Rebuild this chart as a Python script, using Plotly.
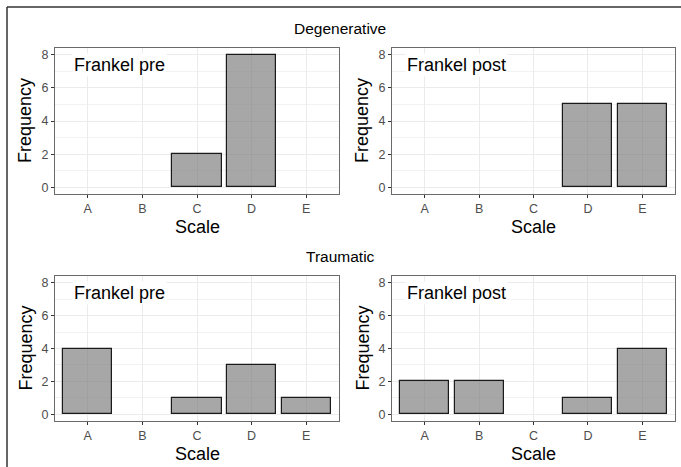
import plotly.graph_objects as go

categories = ["A", "B", "C", "D", "E"]
degen_pre = [0, 0, 2, 8, 0]
degen_post = [0, 0, 0, 5, 5]
trauma_pre = [4, 0, 1, 3, 1]
trauma_post = [2, 2, 0, 1, 4]
y_ticks = [0, 2, 4, 6, 8]
group_titles = ["Degenerative", "Traumatic"]
panel_labels = ["Frankel pre", "Frankel post"]

W, H = 681, 467
FONT = "Liberation Sans, Arial, sans-serif"

# panel pixel boxes: (left, right, top, bottom)
col_px = [(55, 339), (392, 675)]
row_px = [(48, 194), (276, 421)]

def px_x(v):
    return v / W

def px_y(v):
    return 1 - v / H

fig = go.Figure()

series = [degen_pre, degen_post, trauma_pre, trauma_post]
layout_axes = {}
annotations = []
k = 0
for r in range(2):
    for c in range(2):
        k += 1
        xa = "x" if k == 1 else f"x{k}"
        ya = "y" if k == 1 else f"y{k}"
        vals = series[k - 1]
        fig.add_trace(go.Bar(
            x=categories,
            y=[v if v != 0 else None for v in vals],
            width=0.9,
            marker=dict(color="rgba(120,120,120,0.65)", line=dict(color="#1a1a1a", width=1.2)),
            xaxis=xa, yaxis=ya, showlegend=False, hoverinfo="x+y",
        ))
        l, rr = col_px[c]
        t, b = row_px[r]
        xname = "xaxis" if k == 1 else f"xaxis{k}"
        yname = "yaxis" if k == 1 else f"yaxis{k}"
        layout_axes[xname] = dict(
            domain=[px_x(l), px_x(rr)], anchor=ya, type="category",
            categoryorder="array", categoryarray=categories,
            range=[-0.6, 4.6], showgrid=True, gridcolor="#ebebeb", gridwidth=1.1,
            showline=True, linecolor="#6a6a6a", linewidth=1, mirror=True,
            ticks="outside", ticklen=3, tickcolor="#333333", tickwidth=1,
            tickfont=dict(family=FONT, size=12.5, color="#4d4d4d"),
            zeroline=False, fixedrange=True,
        )
        layout_axes[yname] = dict(
            domain=[px_y(b), px_y(t)], anchor=xa,
            range=[-0.4, 8.4], tickvals=y_ticks, ticktext=[str(v) for v in y_ticks],
            showgrid=True, gridcolor="#ebebeb", gridwidth=1.1,
            minor=dict(tickvals=[1, 3, 5, 7], showgrid=True, gridcolor="#f2f2f2", gridwidth=0.6, ticks=""),
            showline=True, linecolor="#6a6a6a", linewidth=1, mirror=True,
            ticks="outside", ticklen=3, tickcolor="#333333", tickwidth=1,
            tickfont=dict(family=FONT, size=12.5, color="#4d4d4d"),
            zeroline=False, fixedrange=True,
        )
        # panel label
        annotations.append(dict(
            x=0.58, y=7.35, xref=xa, yref=ya, text=panel_labels[c],
            showarrow=False, xanchor="center", yanchor="middle",
            font=dict(family=FONT, size=18, color="#000000"),
            bgcolor="#ffffff", borderpad=1,
        ))
        # axis titles
        annotations.append(dict(
            x=px_x(l - 30), y=px_y((t + b) / 2), xref="paper", yref="paper",
            text="Frequency", textangle=-90, showarrow=False,
            xanchor="center", yanchor="middle",
            font=dict(family=FONT, size=18, color="#000000"),
        ))
        annotations.append(dict(
            x=px_x((l + rr) / 2), y=px_y(b + 33), xref="paper", yref="paper",
            text="Scale", showarrow=False, xanchor="center", yanchor="middle",
            font=dict(family=FONT, size=18, color="#000000"),
        ))

for i, title in enumerate(group_titles):
    annotations.append(dict(
        x=px_x(340), y=px_y([28, 256][i]), xref="paper", yref="paper",
        text=title, showarrow=False, xanchor="center", yanchor="middle",
        font=dict(family=FONT, size=15.5, color="#000000"),
    ))

shapes = [
    dict(type="line", xref="paper", yref="paper", x0=px_x(7), x1=1, y0=px_y(7), y1=px_y(7),
         line=dict(color="#333333", width=1.5)),
    dict(type="line", xref="paper", yref="paper", x0=px_x(7), x1=px_x(7), y0=px_y(7), y1=0,
         line=dict(color="#333333", width=1.5)),
]

fig.update_layout(
    width=W, height=H, margin=dict(l=0, r=0, t=0, b=0),
    paper_bgcolor="#ffffff", plot_bgcolor="#ffffff",
    annotations=annotations, shapes=shapes, bargap=0,
    font=dict(family=FONT),
    **layout_axes,
)

fig.write_html(
    "out.html",
    config={"displayModeBar": False},
    post_script="document.body.style.margin='0';document.body.style.padding='0';",
)
